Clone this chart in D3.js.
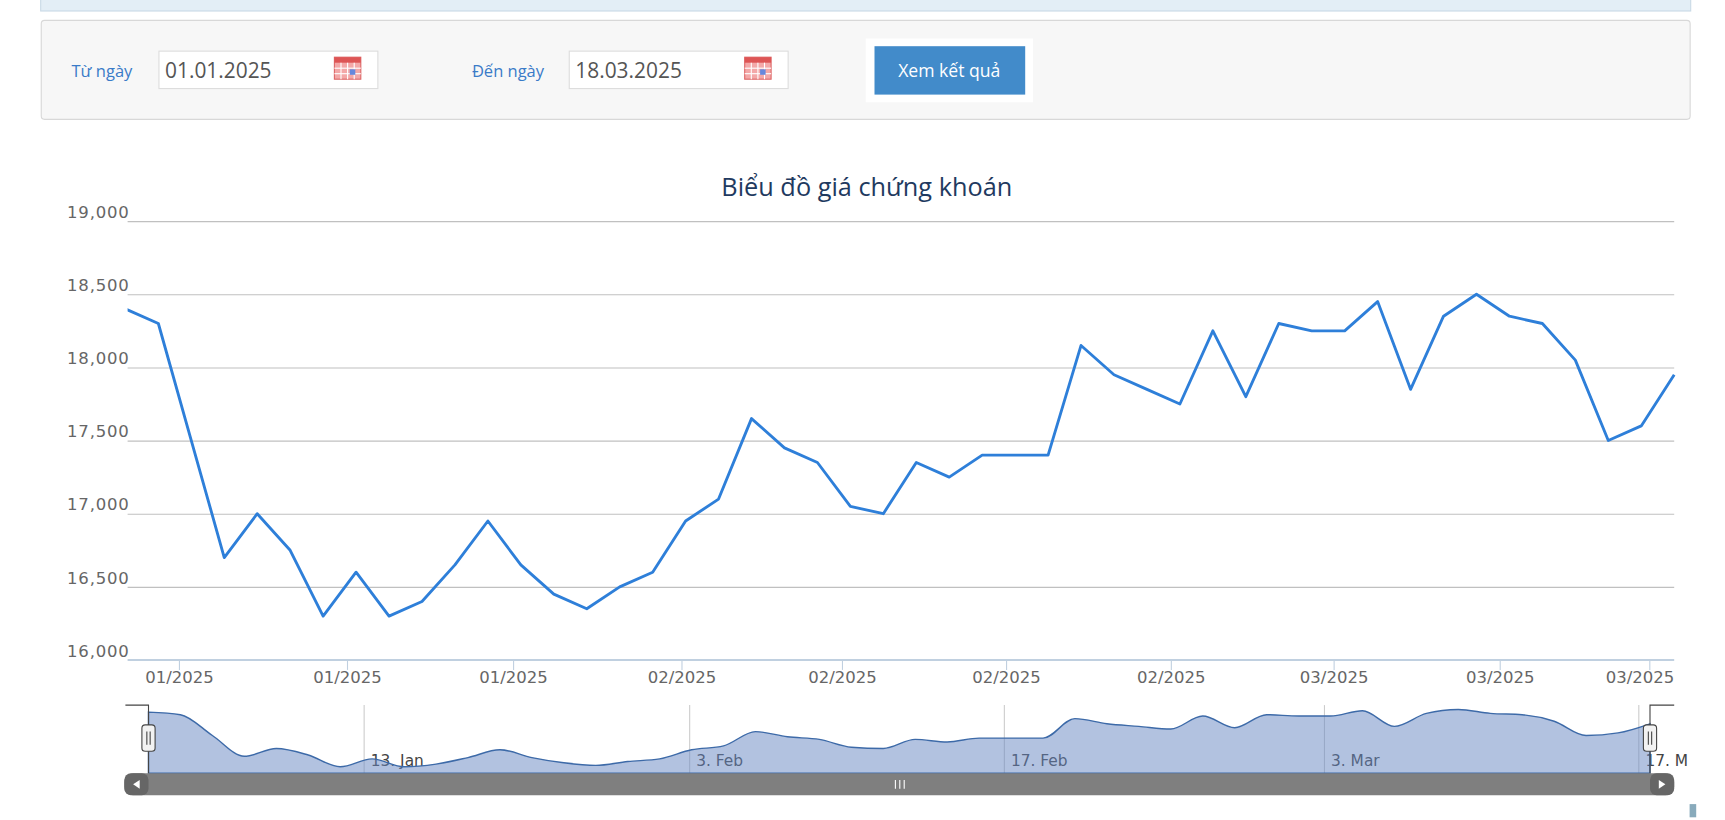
<!DOCTYPE html>
<html><head><meta charset="utf-8">
<script src="https://cdn.jsdelivr.net/npm/d3@7/dist/d3.min.js"></script>
<style>
body{margin:0;background:#fff;font-family:"Open Sans",sans-serif;}
</style></head><body>
<svg id="c" width="1725" height="820"></svg>
<script>
const prices=[18400,18300,17500,16700,17000,16750,16300,16600,16300,16400,16650,16950,16650,16450,16350,16500,16600,16950,17100,17650,17450,17350,17050,17000,17350,17250,17400,17400,17400,18150,17950,17850,17750,18250,17800,18300,18250,18250,18450,17850,18350,18500,18350,18300,18050,17500,17600,17950];
const yTicks=[16000,16500,17000,17500,18000,18500,19000];
const xTickPos=[1.64,6.74,11.78,16.89,21.76,26.74,31.74,36.68,41.72,46.26];
const xTickLabels=["01/2025","01/2025","01/2025","02/2025","02/2025","02/2025","02/2025","03/2025","03/2025","03/2025"];
const navPos=[6.75,16.94,26.79,36.81,46.65];
const navLabels=["13. Jan","3. Feb","17. Feb","3. Mar","17. M"];

const svg=d3.select("#c").append("g").attr("transform","scale(1.1)");
svg.append("rect").attr("x",37).attr("y",-2).attr("width",1500).attr("height",12).attr("fill","#e3eef6").attr("stroke","#c9d9e6");
svg.append("rect").attr("x",37.5).attr("y",18.5).attr("width",1499).attr("height",90).attr("rx",3).attr("fill","#f7f7f7").attr("stroke","#d8d8d8");
function field(lx,label,ix,val){
  svg.append("text").attr("x",lx).attr("y",70).attr("font-size",15).attr("fill","#3a7bc8").attr("font-family","Open Sans").text(label);
  svg.append("rect").attr("x",ix+0.5).attr("y",46.5).attr("width",199).attr("height",34).attr("fill","#fff").attr("stroke","#ddd");
  svg.append("text").attr("x",ix+6).attr("y",71).attr("font-size",19).attr("fill","#555").text(val);
  const g=svg.append("g").attr("transform",`translate(${ix+160},52)`);
  g.append("rect").attr("width",24).attr("height",20).attr("fill","#f3a8a8").attr("stroke","#d66");
  g.append("rect").attr("width",24).attr("height",5).attr("fill","#d55");
  for(let i=1;i<4;i++)g.append("line").attr("x1",i*6).attr("x2",i*6).attr("y1",5).attr("y2",20).attr("stroke","#fff");
  for(let j=1;j<3;j++)g.append("line").attr("x1",0).attr("x2",24).attr("y1",5+j*5).attr("y2",5+j*5).attr("stroke","#fff");
  g.append("rect").attr("x",14).attr("y",11).attr("width",5).attr("height",5).attr("fill","#6688dd");
}
field(65,"Từ ngày",144,"01.01.2025");
field(429,"Đến ngày",517,"18.03.2025");
svg.append("rect").attr("x",787).attr("y",35).attr("width",152).attr("height",58).attr("fill","#fff");
svg.append("rect").attr("x",795).attr("y",42).attr("width",137).attr("height",44).attr("fill","#428bca");
svg.append("text").attr("x",863).attr("y",70).attr("text-anchor","middle").attr("font-size",16).attr("fill","#fff").text("Xem kết quả");

svg.append("text").attr("x",788).attr("y",178).attr("text-anchor","middle").attr("font-size",23).attr("fill","#1f3a60").attr("font-family","Open Sans").text("Biểu đồ giá chứng khoán");

const x=d3.scaleLinear().domain([0,prices.length-1]).range([114,1522]);
const y=d3.scaleLinear().domain([16000,19000]).range([600,201]);
const L=116,R=1522;
const tf="DejaVu Sans";
yTicks.forEach(t=>{
  if(t>16000)svg.append("line").attr("x1",L).attr("x2",R).attr("y1",y(t)+0.5).attr("y2",y(t)+0.5).attr("stroke","#c0c0c0");
  svg.append("text").attr("x",117).attr("y",y(t)-3).attr("text-anchor","end").attr("font-size",15).attr("fill","#666").attr("font-family",tf).attr("textLength",56).text(d3.format(",")(t));
});
svg.append("line").attr("x1",L).attr("x2",R).attr("y1",600).attr("y2",600).attr("stroke","#c0d0e0").attr("stroke-width",2);
xTickPos.forEach((p,i)=>{
  const xx=x(p);
  const last=i==xTickPos.length-1;
  svg.append("line").attr("x1",xx).attr("x2",xx).attr("y1",600).attr("y2",609).attr("stroke","#c0d0e0");
  svg.append("text").attr("x",last?1522:xx).attr("y",621).attr("text-anchor",last?"end":"middle").attr("font-size",15).attr("fill","#666").attr("font-family",tf).text(xTickLabels[i]);
});
svg.append("defs").append("clipPath").attr("id","cp").append("rect").attr("x",L).attr("y",190).attr("width",R-L+2).attr("height",420);
svg.append("path").datum(prices).attr("clip-path","url(#cp)").attr("fill","none").attr("stroke","#2e7fd9").attr("stroke-width",2.6).attr("stroke-linejoin","round")
 .attr("d",d3.line().x((d,i)=>x(i)).y(d=>y(d)));

const nx=d3.scaleLinear().domain([0,prices.length-1]).range([135,1500]);
const ny=d3.scaleLinear().domain([16300,18500]).range([697,645]);
navPos.forEach((p,i)=>{
  const xx=nx(p);
  svg.append("line").attr("x1",xx).attr("x2",xx).attr("y1",641).attr("y2",703).attr("stroke","#ccc");
  svg.append("text").attr("x",xx+6).attr("y",696).attr("font-size",14).attr("fill","#444").attr("font-family",tf).text(navLabels[i]);
});
svg.append("path").datum(prices).attr("fill","rgba(102,133,194,0.5)").attr("stroke","#3d6aa8").attr("stroke-width",1.3)
 .attr("d",d3.area().curve(d3.curveMonotoneX).x((d,i)=>nx(i)).y0(703).y1(d=>ny(d)));
svg.append("path").attr("d","M114,641H135V703").attr("fill","none").attr("stroke","#444");
svg.append("path").attr("d","M1500,703V641H1522").attr("fill","none").attr("stroke","#444");
[135,1500].forEach(h=>{
  svg.append("rect").attr("x",h-6).attr("y",659).attr("width",12).attr("height",24).attr("rx",3).attr("fill","#f2f2f2").attr("stroke","#444");
  svg.append("line").attr("x1",h-1.5).attr("x2",h-1.5).attr("y1",665).attr("y2",677).attr("stroke","#444");
  svg.append("line").attr("x1",h+1.5).attr("x2",h+1.5).attr("y1",665).attr("y2",677).attr("stroke","#444");
});
svg.append("rect").attr("x",113).attr("y",703).attr("width",1409).attr("height",20).attr("rx",8).attr("fill","#7f7f7f");
svg.append("rect").attr("x",113).attr("y",703).attr("width",22).attr("height",20).attr("rx",6).attr("fill","#666");
svg.append("rect").attr("x",1500).attr("y",703).attr("width",22).attr("height",20).attr("rx",6).attr("fill","#666");
svg.append("path").attr("d","M127,709L121,713L127,717Z").attr("fill","#fff");
svg.append("path").attr("d","M1508,709L1514,713L1508,717Z").attr("fill","#fff");
[814,818,822].forEach(v=>svg.append("line").attr("x1",v).attr("x2",v).attr("y1",709).attr("y2",717).attr("stroke","#fff"));
svg.append("rect").attr("x",1536).attr("y",731).attr("width",6).attr("height",12).attr("fill","#8ab");
</script></body></html>
